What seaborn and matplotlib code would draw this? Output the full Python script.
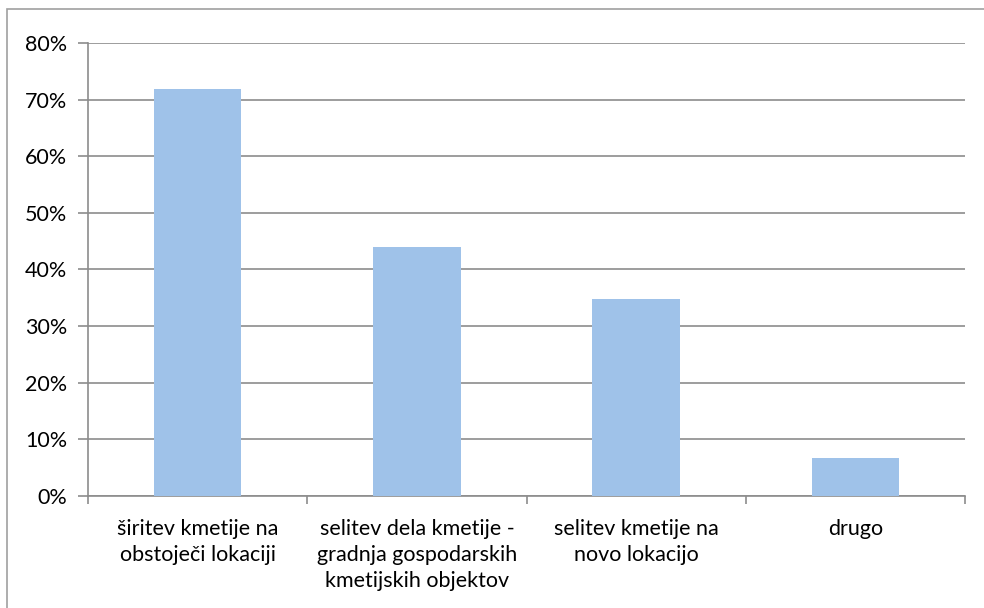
import matplotlib
matplotlib.use("Agg")
import matplotlib.pyplot as plt
import seaborn as sns
import pandas as pd
from matplotlib.patches import Rectangle
from matplotlib.ticker import FixedLocator

categories = [
    "širitev kmetije na\nobstoječi lokaciji",
    "selitev dela kmetije -\ngradnja gospodarskih\nkmetijskih objektov",
    "selitev kmetije na\nnovo lokacijo",
    "drugo",
]
values = [72.0, 44.0, 34.8, 6.7]
yticks = [0, 10, 20, 30, 40, 50, 60, 70, 80]
ytick_labels = [f"{v}%" for v in yticks]

sns.set_theme(style="white")
plt.rcParams["font.family"] = ["Lato", "DejaVu Sans"]

df = pd.DataFrame({"cat": categories, "val": values})

fig = plt.figure(figsize=(9.84, 6.08), dpi=100)
fig.patch.set_facecolor("white")
fig.patches.append(Rectangle((7 / 984, -0.05), 1.2, 1 - 9 / 608 + 0.05,
                             transform=fig.transFigure, fill=False,
                             edgecolor="#a0a0a0", linewidth=1.2, zorder=0))

ax = fig.add_axes([88 / 984, (608 - 495.7) / 608, (965 - 88) / 984, (495.7 - 43.3) / 608])
sns.barplot(data=df, x="cat", y="val", color="#9FC2E9", saturation=1, width=0.4,
            linewidth=0, edgecolor="none", ax=ax, zorder=3)

ax.set_ylim(0, 80)
ax.set_xlim(-0.5, 3.5)
ax.set_yticks(yticks)
ax.set_yticklabels(ytick_labels, fontsize=15.5, color="black")
ax.set_xlabel("")
ax.set_ylabel("")
ax.tick_params(axis="x", length=0, labelsize=15.5, labelcolor="black", pad=17)
ax.tick_params(axis="y", length=7, width=1.2, color="#8c8c8c", direction="out", pad=8, left=True)
ax.xaxis.set_minor_locator(FixedLocator([-0.5, 0.5, 1.5, 2.5, 3.5]))
ax.tick_params(axis="x", which="minor", length=6, width=1.2, color="#8c8c8c", direction="out", bottom=True)
ax.grid(axis="y", color="#8c8c8c", linewidth=1.2, zorder=0)
ax.set_axisbelow(True)
for s in ["top", "right"]:
    ax.spines[s].set_visible(False)
for s in ["left", "bottom"]:
    ax.spines[s].set_visible(True)
    ax.spines[s].set_color("#8c8c8c")
    ax.spines[s].set_linewidth(1.2)
for lab in ax.get_xticklabels():
    lab.set_verticalalignment("top")
    lab.set_linespacing(1.38)

fig.savefig("out.png", dpi=100)
